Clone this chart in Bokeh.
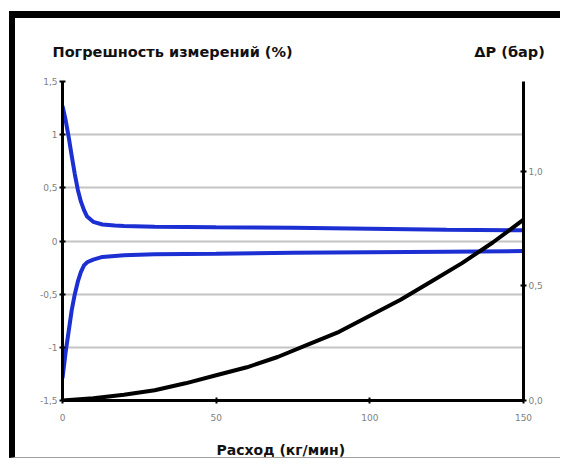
from bokeh.plotting import figure
from bokeh.models import (Range1d, LinearAxis, FixedTicker, Title)
from bokeh.embed import file_html
from bokeh.resources import INLINE

# flow (kg/min) and measurement error (%)
flow_err = [0, 1, 2, 3, 4, 5, 6, 7, 8, 10, 13, 17, 20, 30, 50, 75, 100, 125, 150]
err_upper = [1.27, 1.14, 0.98, 0.80, 0.63, 0.48, 0.37, 0.29, 0.23, 0.18, 0.155,
             0.145, 0.14, 0.135, 0.13, 0.125, 0.115, 0.105, 0.10]
err_lower = [-1.29, -1.05, -0.85, -0.65, -0.50, -0.38, -0.29, -0.23, -0.20, -0.175,
             -0.15, -0.14, -0.135, -0.125, -0.12, -0.11, -0.105, -0.10, -0.095]

# flow (kg/min) and pressure drop (bar)
flow_dp = [0, 10, 20, 30, 40, 50, 60, 70, 80, 90, 100, 110, 120, 130, 140, 150]
dp = [0.0, 0.01, 0.025, 0.045, 0.075, 0.11, 0.145, 0.19, 0.245, 0.30, 0.37,
      0.44, 0.52, 0.60, 0.69, 0.79]

x_ticks = [0, 50, 100, 150]
left_ticks = [-1.5, -1.0, -0.5, 0.0, 0.5, 1.0, 1.5]
left_labels = ["-1,5", "-1", "-0,5", "0", "0,5", "1", "1,5"]
right_ticks = [0.0, 0.5, 1.0]
right_labels = ["0,0", "0,5", "1,0"]

left_title = "Погрешность измерений (%)"
right_title = "ΔP (бар)"
x_title = "Расход (кг/мин)"

p = figure(width=551, height=447, output_backend="svg", toolbar_location=None,
           x_range=Range1d(0, 150), y_range=Range1d(-1.5, 1.5),
           min_border_left=47, min_border_right=43, min_border_top=63,
           min_border_bottom=65, x_axis_location=None, y_axis_location=None)
p.extra_y_ranges = {"dp": Range1d(0, 1.393)}
p.outline_line_color = None
p.background_fill_color = "white"
p.border_fill_color = "white"
p.styles = {"border-top": "7px solid black", "border-left": "6px solid black",
            "border-bottom": "1px solid #a0a0a0", "margin-top": "11px",
            "margin-left": "9px"}

p.xgrid.visible = False
p.ygrid.ticker = FixedTicker(ticks=left_ticks)
p.ygrid.grid_line_color = "#c4c4c4"
p.ygrid.grid_line_width = 2

def style_axis(ax):
    ax.axis_line_color = "black"
    ax.axis_line_width = 3
    ax.major_tick_line_color = "black"
    ax.major_tick_line_width = 2
    ax.major_tick_in = 3
    ax.major_tick_out = 3
    ax.minor_tick_line_color = None
    ax.major_label_text_font = "DejaVu Sans"
    ax.major_label_text_font_size = "9px"
    ax.major_label_text_color = "#808080"
    ax.major_label_standoff = 2

ya = LinearAxis(ticker=FixedTicker(ticks=left_ticks),
                major_label_overrides=dict(zip(left_ticks, left_labels)))
style_axis(ya)
p.add_layout(ya, "left")

yr = LinearAxis(y_range_name="dp", ticker=FixedTicker(ticks=right_ticks),
                major_label_overrides=dict(zip(right_ticks, right_labels)))
style_axis(yr)
p.add_layout(yr, "right")

xa = LinearAxis(ticker=FixedTicker(ticks=x_ticks),
                axis_label=x_title + "\u00a0" * 5)
style_axis(xa)
xa.major_label_standoff = 10
xa.axis_label_text_font = "DejaVu Sans"
xa.axis_label_text_font_style = "bold"
xa.axis_label_text_font_size = "14px"
xa.axis_label_text_color = "#111111"
xa.axis_label_standoff = 18
p.add_layout(xa, "below")

p.line(flow_err, err_upper, line_color="#1c2fd2", line_width=4)
p.line(flow_err, err_lower, line_color="#1c2fd2", line_width=4)
p.line(flow_dp, dp, line_color="black", line_width=4, y_range_name="dp")

gap = "\u00a0" * 36
p.add_layout(Title(text=left_title + gap + right_title, align="left", offset=-10,
                   vertical_align="top",
                   text_font="DejaVu Sans", text_font_style="bold",
                   text_font_size="14.5px", text_color="#111111",
                   standoff=40), "above")

open("out.html", "w").write(file_html(p, INLINE))
